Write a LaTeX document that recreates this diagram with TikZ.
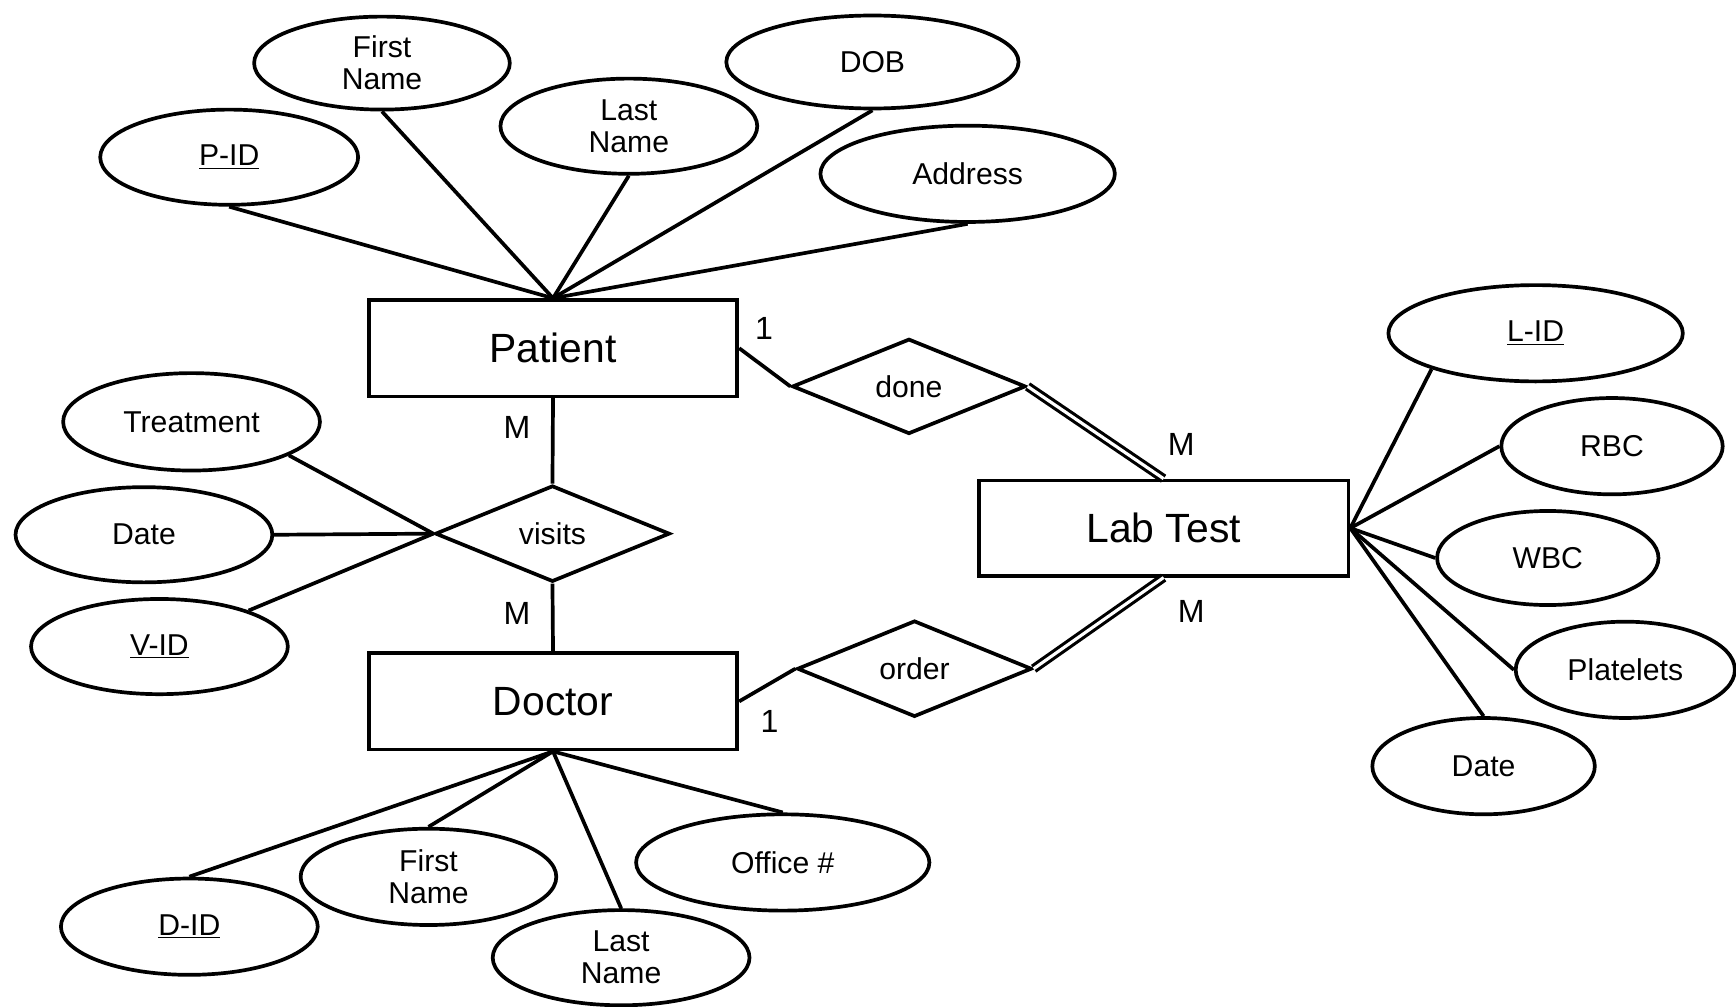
\documentclass[tikz,border=0pt]{standalone}
\usepackage{fontspec}
\setmainfont{Liberation Sans}
\usetikzlibrary{shapes}

\begin{document}
\begin{tikzpicture}[-, x=0.02cm, y=-0.02cm, line width=1.9pt,
        entity/.style={rectangle, draw, minimum width=6.66cm, minimum height=1.74cm, font=\fontsize{21}{24}\selectfont},
        attr/.style={ellipse, draw, minimum width=4.64cm, minimum height=1.72cm, inner sep=0pt, align=center, font=\fontsize{15.5}{16.5}\selectfont},
        rel/.style={diamond, draw, minimum width=4.24cm, minimum height=1.74cm, inner sep=0pt, font=\fontsize{15.5}{17}\selectfont},
        card/.style={inner sep=0pt, font=\fontsize{16.5}{18}\selectfont},
        total/.style={line width=1.6pt, double, double distance=1.6pt}]
        \useasboundingbox (0,0) rectangle (1568,909);

        % entities
        \node at (499.5, 314.5) [entity] (patient) {Patient};
        \node at (499.5, 633.5) [entity] (doctor) {Doctor};
        \node at (1051, 477) [entity, minimum width=6.68cm, minimum height=1.72cm] (labtest) {Lab Test};

        % relationships
        \node at (499, 482) [rel] (visits) {visits};
        \node at (821, 349) [rel, minimum width=4.22cm, minimum height=1.72cm] (done) {done};
        \node at (826, 604) [rel] (order) {order};

        % patient attributes
        \node at (207, 142) [attr, minimum width=4.66cm] (pid) {\underline{P-ID}};
        \node at (345, 57) [attr, minimum width=4.62cm, minimum height=1.68cm] (fname_p) {First\\Name};
        \node at (568, 114) [attr] (lname_p) {Last\\Name};
        \node at (788, 56) [attr, minimum width=5.28cm, minimum height=1.68cm] (dob) {DOB};
        \node at (874, 157) [attr, minimum width=5.32cm, minimum height=1.74cm] (address) {Address};

        % visit attributes
        \node at (173, 381) [attr, minimum height=1.76cm] (treatment) {Treatment};
        \node at (130, 483) [attr] (date_v) {Date};
        \node at (144, 584) [attr] (vid) {\underline{V-ID}};

        % doctor attributes
        \node at (171, 837) [attr, minimum height=1.74cm] (did) {\underline{D-ID}};
        \node at (387, 792) [attr, minimum width=4.62cm, minimum height=1.74cm] (fname_d) {First\\Name};
        \node at (561, 865) [attr] (lname_d) {Last\\Name};
        \node at (707, 779) [attr, minimum width=5.3cm, minimum height=1.74cm] (office) {Office \#};

        % lab test attributes
        \node at (1387, 301) [attr, minimum width=5.32cm, minimum height=1.74cm] (lid) {\underline{L-ID}};
        \node at (1456, 403) [attr, minimum width=4.0cm, minimum height=1.74cm] (rbc) {RBC};
        \node at (1398, 504) [attr, minimum width=4.0cm, minimum height=1.7cm] (wbc) {WBC};
        \node at (1468, 605) [attr, minimum width=3.96cm, minimum height=1.74cm] (platelets) {Platelets};
        \node at (1340, 692) [attr, minimum width=4.02cm, minimum height=1.74cm] (date_l) {Date};

        % cardinalities
        \node at (467, 386) [card] (card_pv) {M};
        \node at (467, 554) [card] (card_dv) {M};
        \node at (690, 297) [card] (card_pd) {1};
        \node at (1067, 401) [card] (card_ld) {M};
        \node at (695, 652) [card] (card_do) {1};
        \node at (1076, 552) [card] (card_lo) {M};

        \draw   (patient.north)   edge    (pid.south)
                (patient.north)   edge    (fname_p.south)
                (patient.north)   edge    (lname_p.south)
                (patient.north)   edge    (dob.south)
                (patient.north)   edge    (address.south)
                (patient.south)   edge    (visits.north)
                (visits.south)    edge    (doctor.north)
                (visits.west)     edge    (treatment.-19)
                (visits.west)     edge    (date_v.east)
                (visits.west)     edge    (vid.22)
                (doctor.south)    edge    (did.north)
                (doctor.south)    edge    (fname_d.north)
                (doctor.south)    edge    (lname_d.north)
                (doctor.south)    edge    (office.north)
                (patient.east)    edge    (done.west)
                (doctor.east)     edge    (order.west)
                (labtest.east)    edge    (lid.199)
                (labtest.east)    edge    (rbc.west)
                (labtest.east)    edge    (wbc.west)
                (labtest.east)    edge    (platelets.west)
                (labtest.east)    edge    (date_l.north)
            ;
        \draw   (done.east)       edge[total]    (labtest.north)
                (order.east)      edge[total]    (labtest.south)
            ;
    \end{tikzpicture}
\end{document}
